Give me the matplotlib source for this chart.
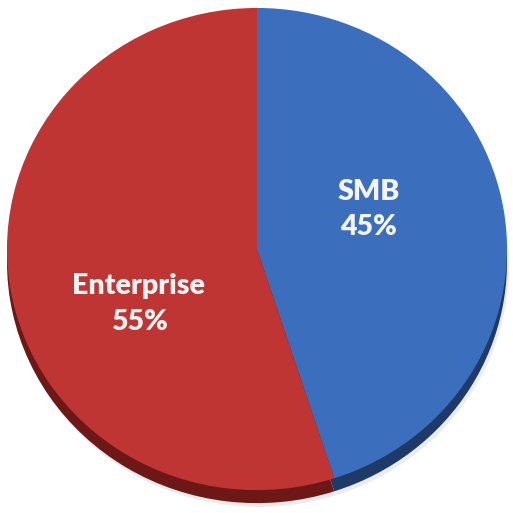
import matplotlib
matplotlib.use("Agg")
import matplotlib.pyplot as plt

segments = ["SMB", "Enterprise"]
shares = [45, 55]
top_colors = ["#3b6fbd", "#bf3533"]
side_colors = ["#1d3a68", "#6e1717"]

fig = plt.figure(figsize=(5.13, 5.13), dpi=100)
ax = fig.add_axes([0, 0, 1, 1])

# soft shadow, then the side of the disc, then the top face
ax.pie(shares, startangle=90, counterclock=False, radius=1.0,
       center=(0.008, -0.07), colors=["#ececec", "#ececec"],
       wedgeprops=dict(linewidth=0))
ax.pie(shares, startangle=90, counterclock=False, radius=1.0,
       center=(0, -0.054), colors=side_colors,
       wedgeprops=dict(linewidth=0))
ax.pie(shares, startangle=90, counterclock=False, radius=1.0,
       center=(0, 0), colors=top_colors,
       wedgeprops=dict(linewidth=0))

# squash into the figure box (slightly flatter vertically)
ax.set_aspect("auto")
ax.set_xlim(-1.028, 1.024)
ax.set_ylim(-1.095, 1.033)

font = dict(family=["Lato", "DejaVu Sans"], weight="heavy", color="#f6f4f2",
            fontsize=20.5, ha="center", va="center", linespacing=1.45)
ax.text(0.448, 0.165, f"{segments[0]}\n{shares[0]}%", **font)
ax.text(-0.472, -0.228, f"{segments[1]}\n{shares[1]}%", **font)

fig.savefig("out.png", dpi=100, facecolor="white")
plt.close(fig)
